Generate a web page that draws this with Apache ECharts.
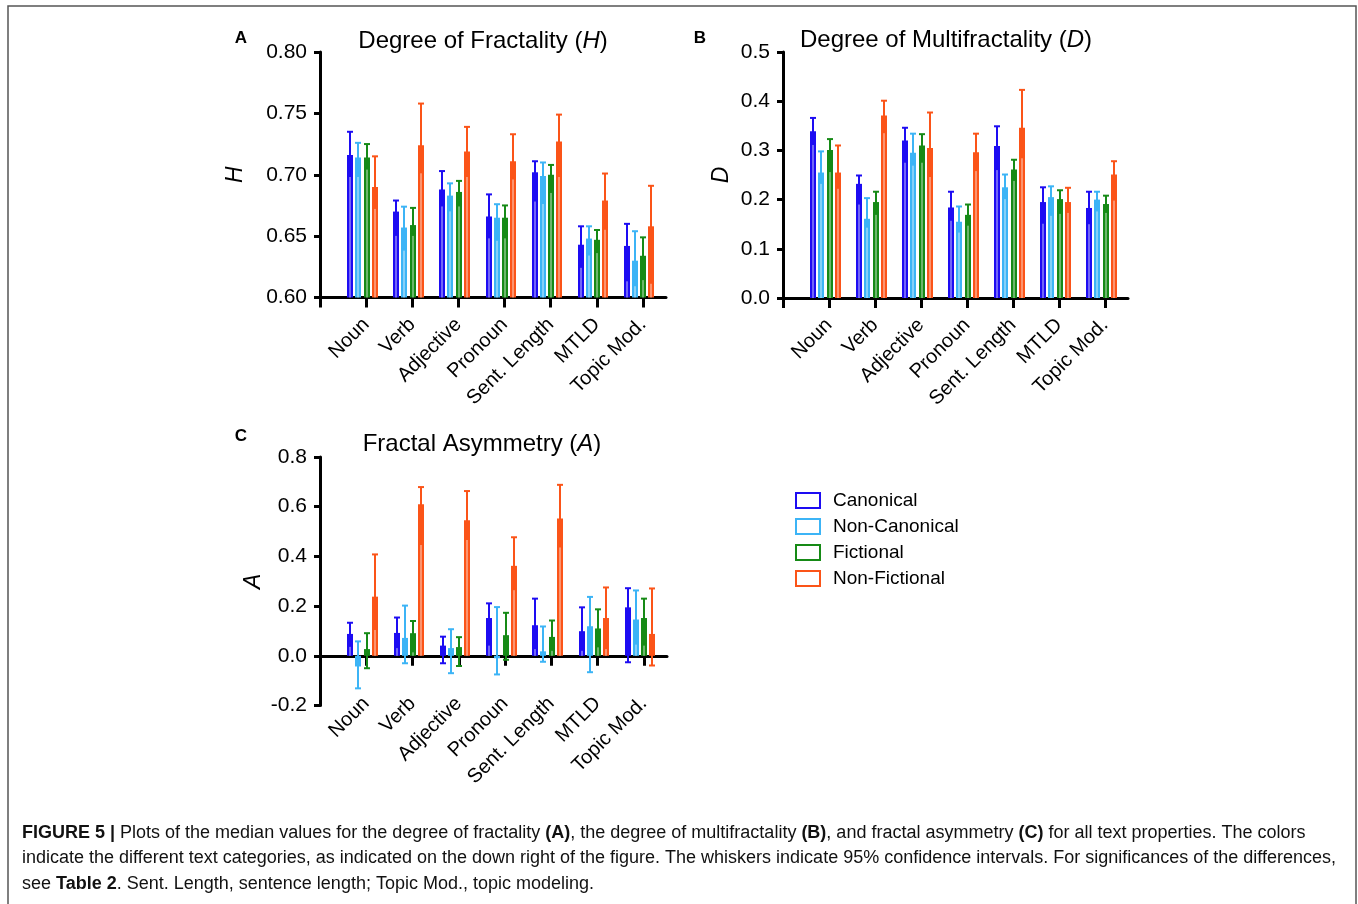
<!DOCTYPE html>
<html>
<head>
<meta charset="utf-8">
<script src="https://cdn.jsdelivr.net/npm/echarts@6/dist/echarts.min.js"></script>
<style>html,body{margin:0;padding:0;background:#fff}#main{width:1358px;height:904px}</style>
</head>
<body>
<div id="main"></div>
<script>
const categories = ['Noun','Verb','Adjective','Pronoun','Sent. Length','MTLD','Topic Mod.'];
const groups = ['Canonical','Non-Canonical','Fictional','Non-Fictional'];
const colors = ['#1d0cf2','#3cb4f6','#168a16','#fb5418'];

// Panel A: Degree of Fractality (H) — median, lower CI, upper CI
const H_Canonical    = [0.716,0.670,0.688,0.666,0.702,0.643,0.642];
const H_Canonical_lo = [0.699,0.651,0.675,0.649,0.679,0.625,0.614];
const H_Canonical_hi = [0.735,0.679,0.703,0.684,0.711,0.658,0.660];
const H_NonCanonical    = [0.714,0.657,0.683,0.665,0.699,0.648,0.630];
const H_NonCanonical_lo = [0.699,0.639,0.671,0.647,0.677,0.635,0.610];
const H_NonCanonical_hi = [0.726,0.674,0.693,0.676,0.710,0.658,0.654];
const H_Fictional    = [0.714,0.659,0.686,0.665,0.700,0.647,0.634];
const H_Fictional_lo = [0.705,0.651,0.675,0.649,0.686,0.637,0.615];
const H_Fictional_hi = [0.725,0.673,0.695,0.675,0.708,0.655,0.649];
const H_NonFictional    = [0.690,0.724,0.719,0.711,0.727,0.679,0.658];
const H_NonFictional_lo = [0.673,0.702,0.699,0.697,0.699,0.656,0.612];
const H_NonFictional_hi = [0.715,0.758,0.739,0.733,0.749,0.701,0.691];

// Panel B: Degree of Multifractality (D)
const D_Canonical    = [0.339,0.232,0.320,0.184,0.309,0.195,0.183];
const D_Canonical_lo = [0.313,0.192,0.277,0.159,0.262,0.153,0.152];
const D_Canonical_hi = [0.366,0.249,0.346,0.216,0.349,0.225,0.216];
const D_NonCanonical    = [0.255,0.161,0.295,0.155,0.225,0.205,0.200];
const D_NonCanonical_lo = [0.234,0.145,0.271,0.135,0.203,0.169,0.178];
const D_NonCanonical_hi = [0.298,0.203,0.334,0.186,0.251,0.227,0.216];
const D_Fictional    = [0.301,0.195,0.310,0.169,0.261,0.201,0.191];
const D_Fictional_lo = [0.258,0.171,0.277,0.149,0.240,0.173,0.175];
const D_Fictional_hi = [0.323,0.216,0.333,0.190,0.281,0.219,0.208];
const D_NonFictional    = [0.255,0.371,0.305,0.296,0.346,0.195,0.251];
const D_NonFictional_lo = [0.224,0.337,0.248,0.260,0.286,0.175,0.200];
const D_NonFictional_hi = [0.310,0.401,0.377,0.334,0.423,0.224,0.278];

// Panel C: Fractal Asymmetry (A)
const A_Canonical    = [0.088,0.092,0.041,0.152,0.123,0.099,0.195];
const A_Canonical_lo = [0.040,0.035,-0.030,0.045,0.031,0.024,-0.026];
const A_Canonical_hi = [0.133,0.154,0.077,0.211,0.230,0.195,0.272];
const A_NonCanonical    = [-0.043,0.072,0.031,-0.010,0.018,0.119,0.146];
const A_NonCanonical_lo = [-0.131,-0.030,-0.070,-0.075,-0.024,-0.066,0.049];
const A_NonCanonical_hi = [0.058,0.202,0.107,0.196,0.118,0.237,0.263];
const A_Fictional    = [0.027,0.091,0.035,0.083,0.076,0.110,0.152];
const A_Fictional_lo = [-0.050,0.018,-0.041,-0.016,0.024,0.038,0.045];
const A_Fictional_hi = [0.091,0.140,0.075,0.173,0.142,0.187,0.230];
const A_NonFictional    = [0.238,0.610,0.545,0.362,0.553,0.152,0.088];
const A_NonFictional_lo = [0.108,0.450,0.470,0.268,0.440,0.031,-0.039];
const A_NonFictional_hi = [0.408,0.679,0.663,0.477,0.688,0.275,0.271];

const panels = [
  {base:0.6, sets:[[H_Canonical,H_Canonical_lo,H_Canonical_hi],[H_NonCanonical,H_NonCanonical_lo,H_NonCanonical_hi],[H_Fictional,H_Fictional_lo,H_Fictional_hi],[H_NonFictional,H_NonFictional_lo,H_NonFictional_hi]]},
  {base:0.0, sets:[[D_Canonical,D_Canonical_lo,D_Canonical_hi],[D_NonCanonical,D_NonCanonical_lo,D_NonCanonical_hi],[D_Fictional,D_Fictional_lo,D_Fictional_hi],[D_NonFictional,D_NonFictional_lo,D_NonFictional_hi]]},
  {base:0.0, sets:[[A_Canonical,A_Canonical_lo,A_Canonical_hi],[A_NonCanonical,A_NonCanonical_lo,A_NonCanonical_hi],[A_Fictional,A_Fictional_lo,A_Fictional_hi],[A_NonFictional,A_NonFictional_lo,A_NonFictional_hi]]}
];

const FONT = "'Liberation Sans', Arial, Helvetica, sans-serif";
const offsetsPx = [-16, -8, 0.5, 8.5];
const BAR_W = 6;

function makeRender(offset, base) {
  return function (params, api) {
    const x = api.value(0), mid = api.value(1), lo = api.value(2), hi = api.value(3);
    const pB = api.coord([x, base]), pM = api.coord([x, mid]), pL = api.coord([x, lo]), pH = api.coord([x, hi]);
    const cx = Math.round(pB[0] + offset);
    const color = api.visual('color');
    const children = [];
    children.push({type:'rect', shape:{x:cx-BAR_W/2, y:Math.min(pB[1],pM[1]), width:BAR_W, height:Math.abs(pM[1]-pB[1])}, style:{fill:color}});
    if ((lo-base)*(mid-base) > 0 && Math.abs(lo-base) < Math.abs(mid-base)) {
      children.push({type:'line', shape:{x1:cx, y1:pB[1], x2:cx, y2:pL[1]}, style:{stroke:'rgba(255,255,255,0.75)', lineWidth:1}});
    }
    children.push({type:'line', shape:{x1:cx, y1:pL[1], x2:cx, y2:pH[1]}, style:{stroke:color, lineWidth:2}});
    children.push({type:'line', shape:{x1:cx-3, y1:pH[1], x2:cx+3, y2:pH[1]}, style:{stroke:color, lineWidth:2}});
    children.push({type:'line', shape:{x1:cx-3, y1:pL[1], x2:cx+3, y2:pL[1]}, style:{stroke:color, lineWidth:2}});
    return {type:'group', children};
  };
}

const grids = [
  {left:320, top:52, width:346, height:245.5},
  {left:783, top:52, width:345, height:246},
  {left:320, top:457, width:347, height:248.5}
];

const xAxes = grids.map((g, i) => ({
  type:'value', gridIndex:i, min:-1, max:6.5, interval:1,
  splitLine:{show:false},
  axisLine:{show:true, onZero: i === 2, lineStyle:{color:'#000', width:3}},
  axisTick:{show:true, customValues:[-1,0,1,2,3,4,5,6], length:10, lineStyle:{color:'#000', width:3}},
  axisLabel:{customValues:[0,1,2,3,4,5,6], rotate:45, margin: i === 2 ? -5 : 24, color:'#000', fontSize:20, fontFamily:FONT,
    formatter: v => categories[Math.round(v)] || ''}
}));

const yCfg = [
  {min:0.6, max:0.8, interval:0.05, dec:2, name:'H', gap:73},
  {min:0.0, max:0.5, interval:0.1, dec:1, name:'D', gap:50},
  {min:-0.2, max:0.8, interval:0.2, dec:1, name:'A', gap:55}
];
const yAxes = yCfg.map((c, i) => ({
  type:'value', gridIndex:i, min:c.min, max:c.max, interval:c.interval,
  splitLine:{show:false},
  axisLine:{show:true, onZero:false, lineStyle:{color:'#000', width:3}},
  axisTick:{show:true, length:6, lineStyle:{color:'#000', width:3}},
  axisLabel:{color:'#000', fontSize:21, fontFamily:FONT, margin:13, formatter: v => v.toFixed(c.dec)},
  name:c.name, nameLocation:'middle', nameGap:c.gap, nameRotate:90,
  nameTextStyle:{color:'#000', fontSize:23, fontStyle:'italic', fontFamily:FONT}
}));

const series = [];
panels.forEach((p, pi) => {
  p.sets.forEach((s, gi) => {
    series.push({
      type:'custom', name:groups[gi], xAxisIndex:pi, yAxisIndex:pi,
      itemStyle:{color:colors[gi]}, legendIcon:'rect',
      renderItem: makeRender(offsetsPx[gi], p.base),
      encode:{x:0, y:[1,2,3]},
      data: categories.map((c, k) => [k, s[0][k], s[1][k], s[2][k]]),
      silent:true, animation:false
    });
  });
});

function titleText(x, y, pre, it, post) {
  return {type:'text', x, y, style:{text:'{a|' + pre + '}{i|' + it + '}{a|' + post + '}', textAlign:'center', textVerticalAlign:'middle',
    rich:{a:{fontSize:24, fontFamily:FONT, fill:'#000'}, i:{fontSize:24, fontFamily:FONT, fontStyle:'italic', fill:'#000'}}}};
}
function letter(x, y, t) {
  return {type:'text', x, y, style:{text:t, font:'bold 17px ' + FONT, fill:'#000', textAlign:'center', textVerticalAlign:'middle'}};
}
const capRich = {b:{fontWeight:'bold', fontSize:18, fontFamily:FONT, fill:'#111'}};
function capLine(y, t) {
  return {type:'text', x:22, y, style:{text:t, fontSize:18, fontFamily:FONT, fill:'#111', textVerticalAlign:'middle', rich:capRich}};
}

const option = {
  backgroundColor:'#fff',
  animation:false,
  grid: grids,
  xAxis: xAxes,
  yAxis: yAxes,
  legend: {
    orient:'vertical', left:795, top:491, padding:0, itemWidth:24, itemHeight:15, itemGap:7,
    selectedMode:false,
    textStyle:{fontSize:19, fontFamily:FONT, color:'#000', padding:[0,0,0,8]},
    data: groups.map((g, i) => ({name:g, icon:'rect', itemStyle:{color:'#fff', borderColor:colors[i], borderWidth:2}}))
  },
  series,
  graphic: [
    {type:'rect', shape:{x:8, y:6, width:1348, height:920}, style:{fill:'none', stroke:'#555', lineWidth:1.5}, silent:true},
    letter(241, 38, 'A'), letter(700, 38, 'B'), letter(241, 436, 'C'),
    titleText(483, 41, 'Degree of Fractality (', 'H', ')'),
    titleText(946, 40, 'Degree of Multifractality (', 'D', ')'),
    titleText(482, 444, 'Fractal Asymmetry (', 'A', ')'),
    capLine(833, '{b|FIGURE 5 |} Plots of the median values for the degree of fractality {b|(A)}, the degree of multifractality {b|(B)}, and fractal asymmetry {b|(C)} for all text properties. The colors'),
    capLine(858, 'indicate the different text categories, as indicated on the down right of the figure. The whiskers indicate 95% confidence intervals. For significances of the differences,'),
    capLine(884, 'see {b|Table 2}. Sent. Length, sentence length; Topic Mod., topic modeling.')
  ]
};

const chart = echarts.init(document.getElementById('main'), null, {renderer:'canvas'});
chart.setOption(option);
</script>
</body>
</html>
